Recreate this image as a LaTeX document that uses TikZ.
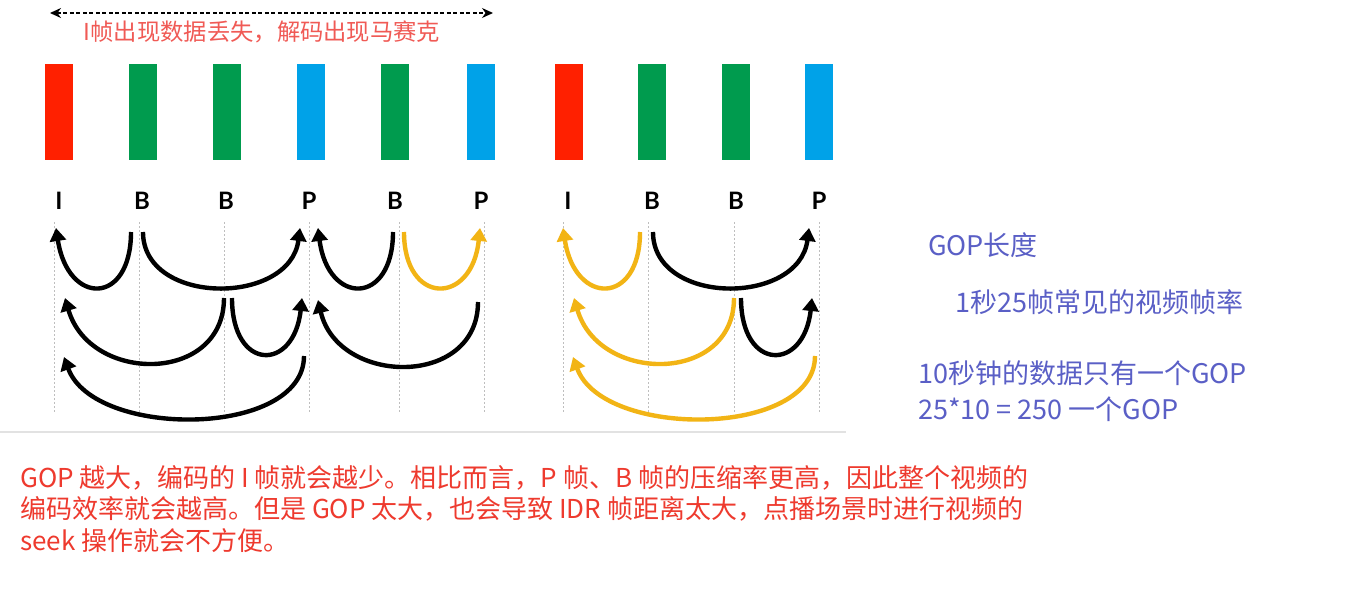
\documentclass[tikz,border=0pt]{standalone}
\usepackage{fontspec}
\setmainfont{Noto Sans CJK SC}
\newfontfamily\cjk{Noto Sans CJK SC}
\newfontfamily\lblfont{Lato}
\usetikzlibrary{arrows.meta}
\definecolor{fred}{HTML}{FF2000}
\definecolor{fgreen}{HTML}{009B4E}
\definecolor{fblue}{HTML}{00A2E8}
\definecolor{agold}{HTML}{F2B415}
\definecolor{tred}{HTML}{EE3A2E}
\definecolor{tpink}{HTML}{F05A55}
\definecolor{tblue}{HTML}{5A5FC6}
\definecolor{vgray}{HTML}{BEBEBE}
\definecolor{hgray}{HTML}{E2E2E2}
\tikzset{
  framebox/.style={draw=none,minimum width=28pt,minimum height=96pt,inner sep=0pt},
  lbl/.style={font=\lblfont\bfseries\fontsize{24}{24}\selectfont,inner sep=0pt},
  arr/.style={line width=4.4pt,-{Triangle[width=16pt,length=13pt]}},
  blk/.style={arr,black},
  gld/.style={arr,agold},
  vline/.style={vgray,line width=0.7pt,dash pattern=on 2pt off 2pt},
  bluetxt/.style={font=\cjk\fontsize{27}{27}\selectfont,text=tblue,anchor=west,inner sep=0pt},
  redtxt/.style={font=\cjk\fontsize{26}{26}\selectfont,text=tred,anchor=west,inner sep=0pt},
}
\begin{document}
\begin{tikzpicture}[x=1pt,y=-1pt]
\useasboundingbox (0,0) rectangle (1368,597);
\fill[white] (0,0) rectangle (1368,597);
% top dashed arrow and label
\coordinate (ta) at (50,13);
\coordinate (tb) at (493,13);
\draw[line width=1.4pt,dash pattern=on 4pt off 2.5pt,{Stealth[length=11pt,width=10pt]}-{Stealth[length=11pt,width=10pt]}] (ta) -- (tb);
\node[font=\cjk\fontsize{23.3}{23.3}\selectfont,text=tpink,inner sep=0pt] (toplbl) at (262,32) {I帧出现数据丢失，解码出现马赛克};
% frames
\node[framebox,fill=fred]   (f1)  at (59,112) {};
\node[framebox,fill=fgreen] (f2)  at (143,112) {};
\node[framebox,fill=fgreen] (f3)  at (227,112) {};
\node[framebox,fill=fblue]  (f4)  at (311,112) {};
\node[framebox,fill=fgreen] (f5)  at (395,112) {};
\node[framebox,fill=fblue]  (f6)  at (481,112) {};
\node[framebox,fill=fred]   (f7)  at (569,112) {};
\node[framebox,fill=fgreen] (f8)  at (652,112) {};
\node[framebox,fill=fgreen] (f9)  at (736,112) {};
\node[framebox,fill=fblue]  (f10) at (819,112) {};
% labels
\node[lbl] (l1)  at (59,201) {I};
\node[lbl] (l2)  at (142,201) {B};
\node[lbl] (l3)  at (226,201) {B};
\node[lbl] (l4)  at (309,201) {P};
\node[lbl] (l5)  at (395,201) {B};
\node[lbl] (l6)  at (481,201) {P};
\node[lbl] (l7)  at (568,201) {I};
\node[lbl] (l8)  at (652,201) {B};
\node[lbl] (l9)  at (736,201) {B};
\node[lbl] (l10) at (819,201) {P};
% vertical dashed lines
\foreach \x in {54,139,224,309,399,484,563,648,734,819}{
  \draw[vline] (\x,222) -- (\x,412);
}
% horizontal gray line
\draw[hgray,line width=1.5pt] (0,432) -- (846,432);
% arrows first GOP
\coordinate (a1s) at (131,232); \coordinate (a1e) at (56,228);
\coordinate (a2s) at (143,232); \coordinate (a2e) at (300,228);
\coordinate (a3s) at (393,232); \coordinate (a3e) at (318,228);
\coordinate (a4s) at (404,232); \coordinate (a4e) at (480,228);
\coordinate (a5s) at (224,298); \coordinate (a5e) at (65,298);
\coordinate (a6s) at (232,298); \coordinate (a6e) at (302,298);
\coordinate (a7s) at (478,302); \coordinate (a7e) at (318,300);
\coordinate (a8s) at (304,356); \coordinate (a8e) at (64,357);
\draw[blk] (a1s) .. controls +(0,74) and +(12,78) .. (a1e);
\draw[blk] (a2s) .. controls +(0,74) and +(-10,78) .. (a2e);
\draw[blk] (a3s) .. controls +(0,74) and +(10,78) .. (a3e);
\draw[gld] (a4s) .. controls +(0,74) and +(-8,78) .. (a4e);
\draw[blk] (a5s) .. controls +(0,86) and +(25,86) .. (a5e);
\draw[blk] (a6s) .. controls +(0,74) and +(-8,74) .. (a6e);
\draw[blk] (a7s) .. controls +(0,86) and +(20,86) .. (a7e);
\draw[blk] (a8s) .. controls +(0,82) and +(30,82) .. (a8e);
% arrows second GOP
\coordinate (b1s) at (640,232); \coordinate (b1e) at (563,228);
\coordinate (b2s) at (653,232); \coordinate (b2e) at (809,228);
\coordinate (b3s) at (734,298); \coordinate (b3e) at (574,298);
\coordinate (b4s) at (741,298); \coordinate (b4e) at (812,298);
\coordinate (b5s) at (815,356); \coordinate (b5e) at (573,357);
\draw[gld] (b1s) .. controls +(0,74) and +(12,78) .. (b1e);
\draw[blk] (b2s) .. controls +(0,74) and +(-10,78) .. (b2e);
\draw[gld] (b3s) .. controls +(0,86) and +(25,86) .. (b3e);
\draw[blk] (b4s) .. controls +(0,74) and +(-8,74) .. (b4e);
\draw[gld] (b5s) .. controls +(0,82) and +(30,82) .. (b5e);
% right text
\node[bluetxt] (r1) at (928,245) {GOP长度};
\node[bluetxt] (r2) at (955,302) {1秒25帧常见的视频帧率};
\node[bluetxt] (r3) at (918,373) {10秒钟的数据只有一个GOP};
\node[bluetxt] (r4) at (918,409) {25*10 = 250 一个GOP};
% bottom text
\node[redtxt] (t1) at (20,478) {GOP 越大，编码的 I 帧就会越少。相比而言，P 帧、B 帧的压缩率更高，因此整个视频的};
\node[redtxt] (t2) at (20,509) {编码效率就会越高。但是 GOP 太大，也会导致 IDR 帧距离太大，点播场景时进行视频的};
\node[redtxt] (t3) at (20,541) {seek 操作就会不方便。};
\end{tikzpicture}
\end{document}
